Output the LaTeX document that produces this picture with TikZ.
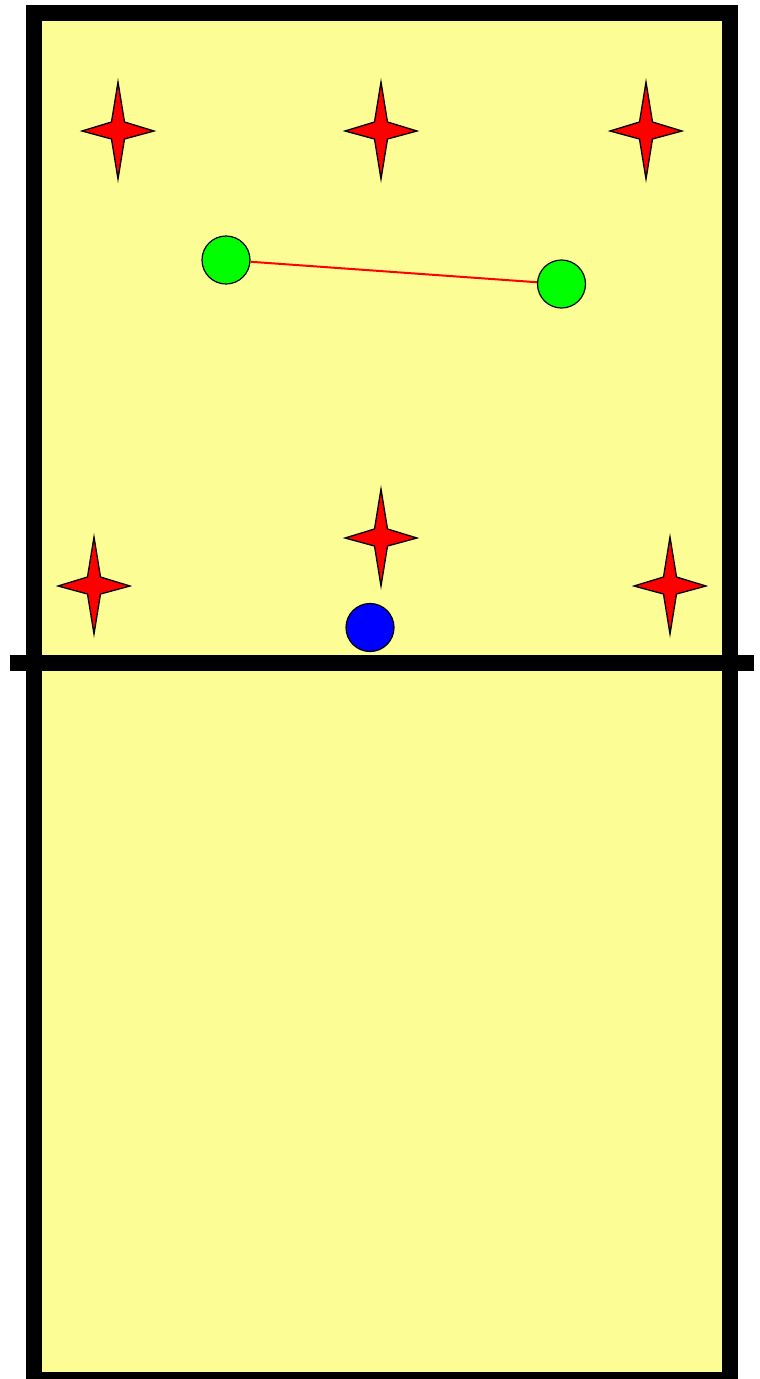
\documentclass[tikz,border=0pt]{standalone}
\definecolor{court}{RGB}{253,253,150}
\tikzset{
  courtline/.style={line width=16pt, draw=black},
  player/.style={circle, draw=black, line width=1.2pt, minimum size=48pt, inner sep=0pt},
  starshape/.style={fill=red, draw=black, line width=1.3pt, line join=miter},
  pass/.style={draw=red, line width=2pt}
}
\begin{document}
\begin{tikzpicture}[x=1pt,y=-1pt]
\useasboundingbox (0,0) rectangle (760,1379);
\fill[court] (33.5,12.5) rectangle (729.5,1380);
\draw[courtline] (33.5,1380) -- (33.5,12.5) -- (729.5,12.5) -- (729.5,1380) -- cycle;
\draw[courtline] (9.5,662.5) -- (753.5,662.5);
\foreach \cx/\cy in {118/131, 381/131, 646/131, 381/538, 94/586, 670/586}{
  \draw[starshape] (\cx,\cy)
    ++(0,-49) -- ++(6.5,40) -- ++(29.5,9) -- ++(-29.5,8) -- ++(-6.5,40)
    -- ++(-6.5,-40) -- ++(-29.5,-8) -- ++(29.5,-9) -- cycle;
}
\node[player, fill=green] (g1) at (226,260) {};
\node[player, fill=green] (g2) at (561.5,284) {};
\node[player, fill=blue] (b1) at (370,627.5) {};
\draw[pass] (g1) -- (g2);
\end{tikzpicture}
\end{document}
